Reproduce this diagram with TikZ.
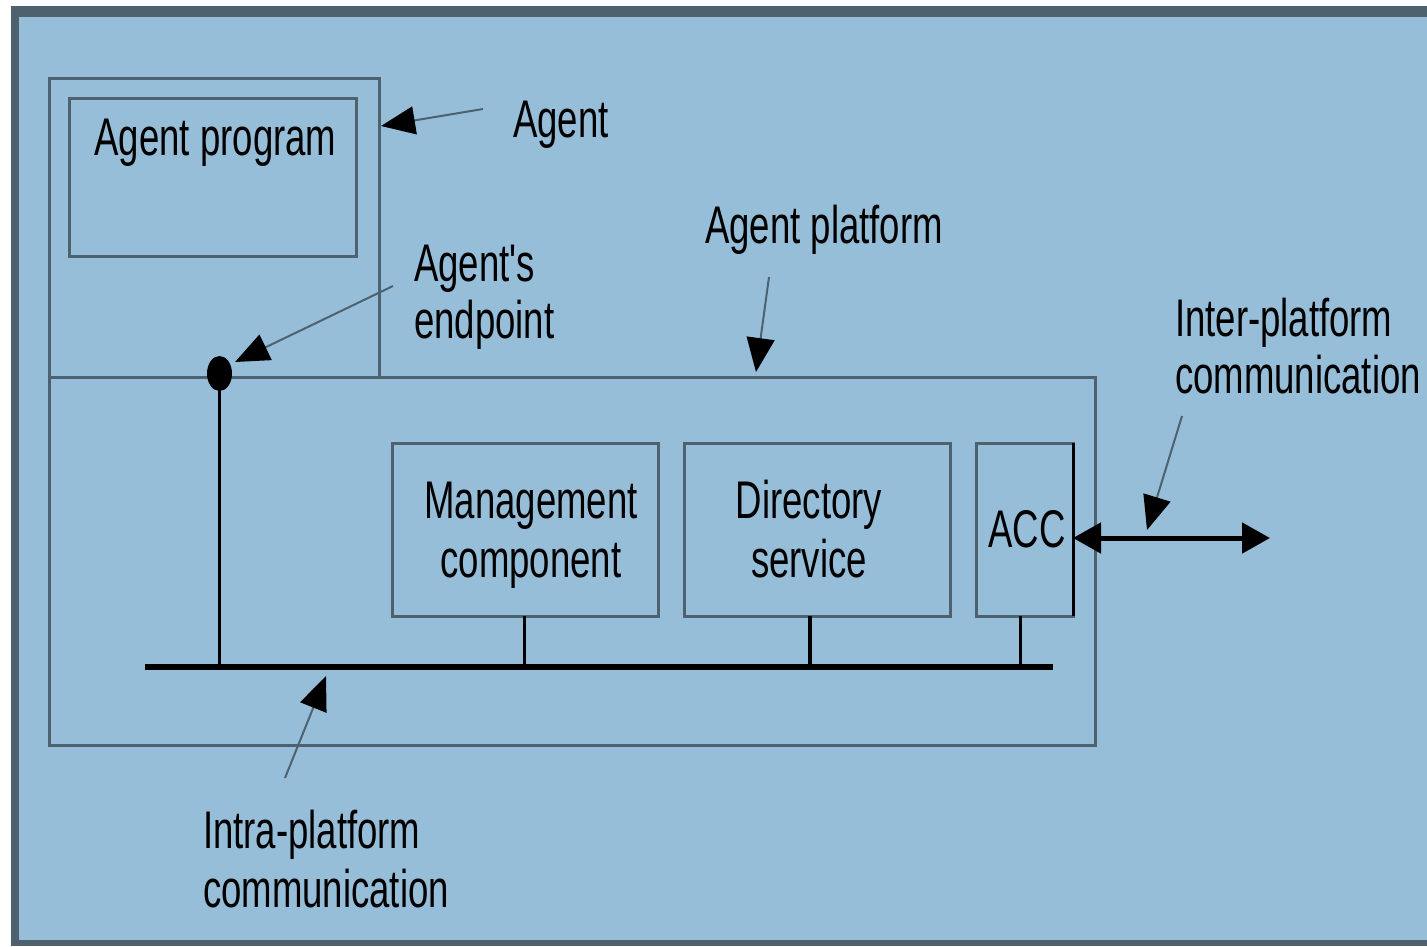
\documentclass[tikz,border=0pt]{standalone}
\usepackage{fontspec}
\newfontfamily\lblfont[FakeStretch=0.69]{Liberation Sans}
\usetikzlibrary{arrows.meta,shapes.geometric}
\definecolor{bgblue}{HTML}{97BED8}
\definecolor{edgegray}{HTML}{4D626E}
\begin{document}
\begin{tikzpicture}[x=1pt,y=-1pt,
  every node/.style={inner sep=0pt,outer sep=0pt},
  lbl/.style={font=\lblfont\fontsize{53}{58}\selectfont,text=black},
  box/.style={draw=edgegray,line width=3pt,rectangle},
  ptr/.style={draw=edgegray,line width=2pt,-{Triangle[length=34pt,width=28pt,fill=black,color=black]}},
  drop/.style={draw=black,line width=3.5pt},
  busline/.style={draw=black,line width=6pt},
  twoway/.style={draw=black,line width=5pt,{Triangle[length=28pt,width=30pt]}-{Triangle[length=28pt,width=30pt]}}]
\useasboundingbox (0,0) rectangle (1427,946);
% frame
\fill[white] (0,0) rectangle (1427,946);
\fill[edgegray] (11,6) rectangle (1427,946);
\fill[bgblue] (19,17) rectangle (1427,940);

% boxes
\node[box,minimum width=1046,minimum height=368] (platform) at (572,561) {};
\node[box,minimum width=330,minimum height=299] (agent) at (214,227.5) {};
\node[box,minimum width=287,minimum height=158] (prog) at (212.5,177) {};
\node[box,minimum width=266,minimum height=173] (mgmt) at (525,529.5) {};
\node[box,minimum width=266,minimum height=173] (dir) at (817,529.5) {};
\node[box,minimum width=97,minimum height=173] (acc) at (1024.5,529.5) {};
\draw[black,line width=3pt] (acc.north east) -- (acc.south east);

% texts (multi-line nodes: base = baseline of the last line)
\node[lbl,anchor=base] (progtxt) at (215.5,155) {Agent program};
\node[lbl,anchor=base] (agenttxt) at (561,137) {Agent};
\node[lbl,anchor=base west,align=left,font=\lblfont\fontsize{53}{57}\selectfont] (eptxt) at (414,338) {Agent's\\endpoint};
\node[lbl,anchor=base] (aptxt) at (824,243) {Agent platform};
\node[lbl,anchor=base west,align=left,font=\lblfont\fontsize{53}{57}\selectfont] (intertxt) at (1175,393) {Inter-platform\\communication};
\node[lbl,anchor=base west,align=left,font=\lblfont\fontsize{53}{59}\selectfont] (intratxt) at (203,907) {Intra-platform\\communication};
\node[lbl,anchor=base,align=center,font=\lblfont\fontsize{53}{59}\selectfont] (mgmttxt) at (531,577) {Management\\component};
\node[lbl,anchor=base,align=center,font=\lblfont\fontsize{53}{59}\selectfont] (dirtxt) at (809,577) {Directory\\service};
\node[lbl,anchor=base] (acctxt) at (1027,547) {ACC};

% bus
\coordinate (busL) at (145,667);
\coordinate (busR) at (1053,667);
\draw[busline] (busL) -- (busR);

% endpoint
\node[ellipse,fill=black,minimum width=25,minimum height=35] (ep) at (219.5,373.5) {};
\draw[drop] (ep.center) -- (ep.center |- busL);
\draw[drop,line width=3pt] ([xshift=-1pt]mgmt.south) -- ([xshift=-1pt]mgmt.south |- busL);
\draw[drop,line width=4pt] ([xshift=-7pt]dir.south) -- ([xshift=-7pt]dir.south |- busL);
\draw[drop,line width=3pt] ([xshift=-4pt]acc.south) -- ([xshift=-4pt]acc.south |- busL);

% inter-platform link
\coordinate (ext) at (1270,538);
\draw[twoway] (acc.east |- ext) -- (ext);

% pointer arrows
\coordinate (s1) at (483,109);
\coordinate (t1) at (381,126);
\draw[ptr] (s1) -- (t1);
\coordinate (s2) at (393,286);
\coordinate (t2) at (235,362);
\draw[ptr] (s2) -- (t2);
\coordinate (s3) at (769,277);
\coordinate (t3) at (756,372);
\draw[ptr] (s3) -- (t3);
\coordinate (s4) at (1182,416);
\coordinate (t4) at (1147,530);
\draw[ptr] (s4) -- (t4);
\coordinate (s5) at (285,778);
\coordinate (t5) at (326,676);
\draw[ptr] (s5) -- (t5);
\end{tikzpicture}
\end{document}
